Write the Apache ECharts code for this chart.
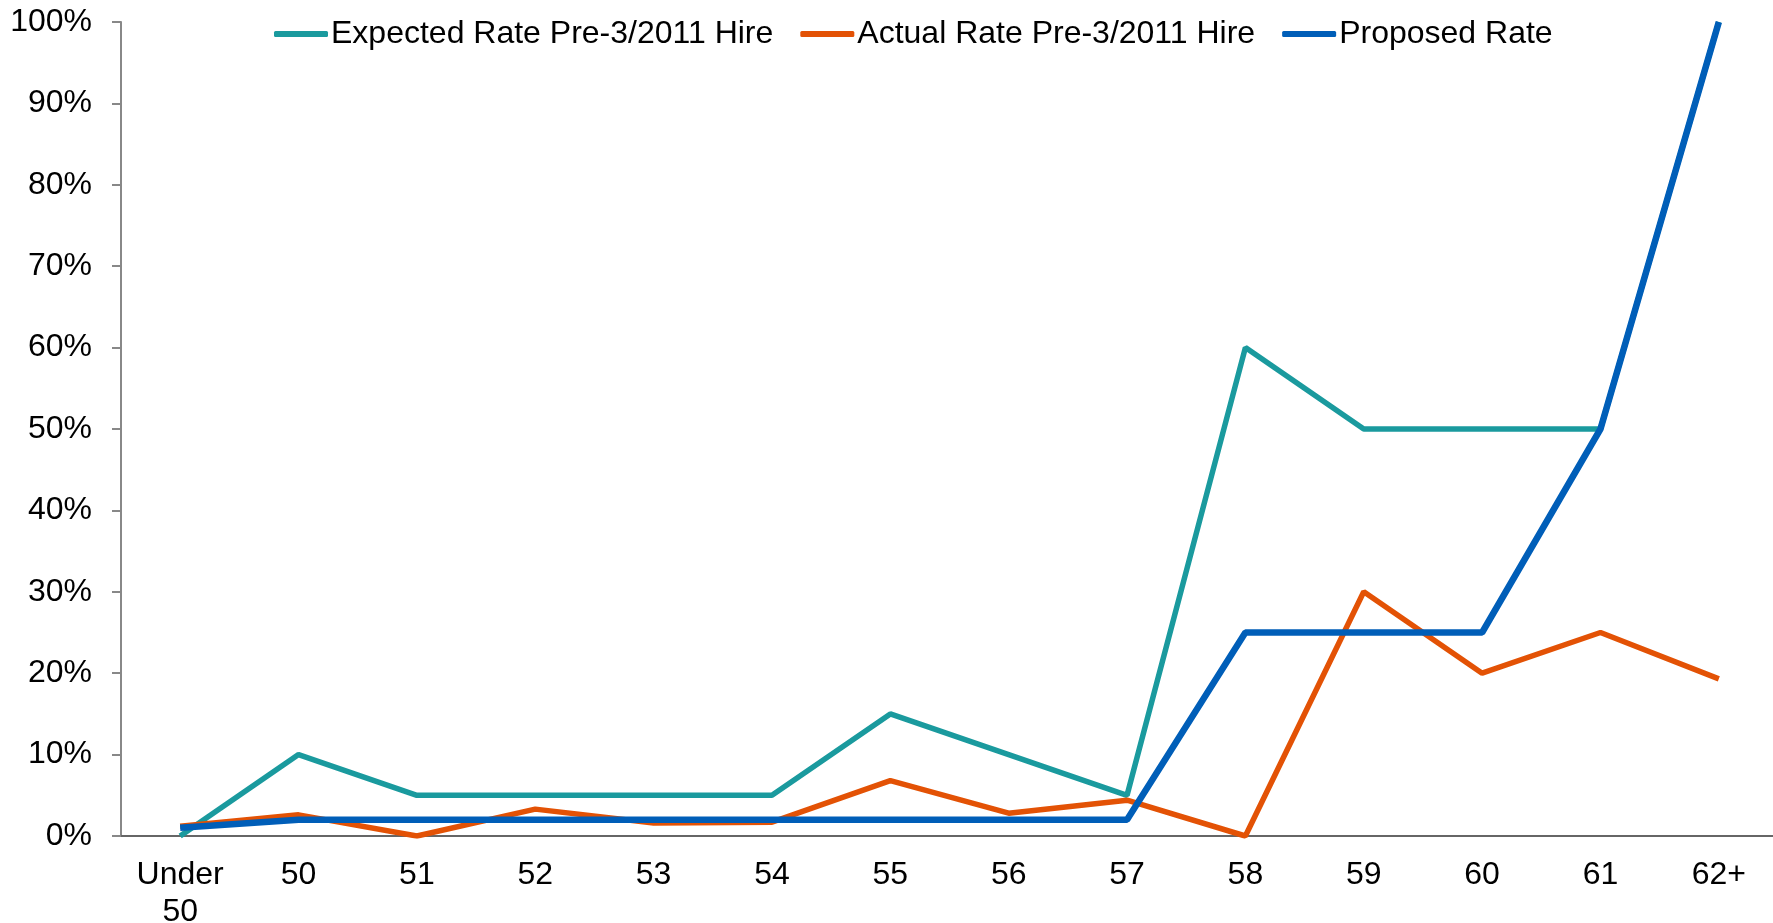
<!DOCTYPE html>
<html>
<head>
<meta charset="utf-8">
<script src="https://cdn.jsdelivr.net/npm/echarts@6/dist/echarts.min.js"></script>
<style>
html,body{margin:0;padding:0;background:#fff;}
#chart{width:1773px;height:923px;}
</style>
</head>
<body>
<div id="chart"></div>
<script>
var categories = ['Under\n50','50','51','52','53','54','55','56','57','58','59','60','61','62+'];
var expectedRate = [0,10,5,5,5,5,15,10,5,60,50,50,50,100];
var actualRate = [1.2,2.6,0,3.3,1.6,1.7,6.8,2.8,4.4,0,30,20,25,19.3];
var proposedRate = [1,2,2,2,2,2,2,2,2,25,25,25,50,100];
var seriesNames = ['Expected Rate Pre-3/2011 Hire','Actual Rate Pre-3/2011 Hire','Proposed Rate'];
var yTicks = {min:0, max:100, interval:10};

var FONT = '"Liberation Sans", Arial, sans-serif';
var chart = echarts.init(document.getElementById('chart'));
chart.setOption({
  animation:false,
  backgroundColor:'#fff',
  textStyle:{fontFamily:FONT},
  grid:{left:121,right:-5,top:22,bottom:87,containLabel:false,outerBoundsMode:'none'},
  legend:{
    left:269, top:13,
    itemWidth:54, itemHeight:6, itemGap:27,
    icon:'roundRect',
    textStyle:{fontSize:32,color:'#000',fontFamily:FONT,padding:[0,0,0,-2]},
    data:seriesNames
  },
  xAxis:{
    type:'category',
    data:categories,
    boundaryGap:true,
    axisLine:{show:true,lineStyle:{color:'#666',width:2}},
    axisTick:{show:false},
    axisLabel:{fontSize:32,color:'#000',fontFamily:FONT,margin:21,lineHeight:37,interval:0},
    splitLine:{show:false}
  },
  yAxis:{
    type:'value',
    min:yTicks.min, max:yTicks.max, interval:yTicks.interval,
    axisLine:{show:true,lineStyle:{color:'#888',width:2}},
    axisTick:{show:true,inside:false,length:9,lineStyle:{color:'#888',width:2}},
    axisLabel:{fontSize:32,color:'#000',fontFamily:FONT,margin:29,formatter:'{value}%'},
    splitLine:{show:false}
  },
  series:[
    {name:seriesNames[0],type:'line',data:expectedRate,symbol:'none',
     lineStyle:{color:'#1A9A9E',width:5.5},itemStyle:{color:'#1A9A9E'},z:2},
    {name:seriesNames[1],type:'line',data:actualRate,symbol:'none',
     lineStyle:{color:'#E35205',width:5.5},itemStyle:{color:'#E35205'},z:3},
    {name:seriesNames[2],type:'line',data:proposedRate,symbol:'none',
     lineStyle:{color:'#005EB8',width:6.5},itemStyle:{color:'#005EB8'},z:4}
  ]
});
</script>
</body>
</html>
